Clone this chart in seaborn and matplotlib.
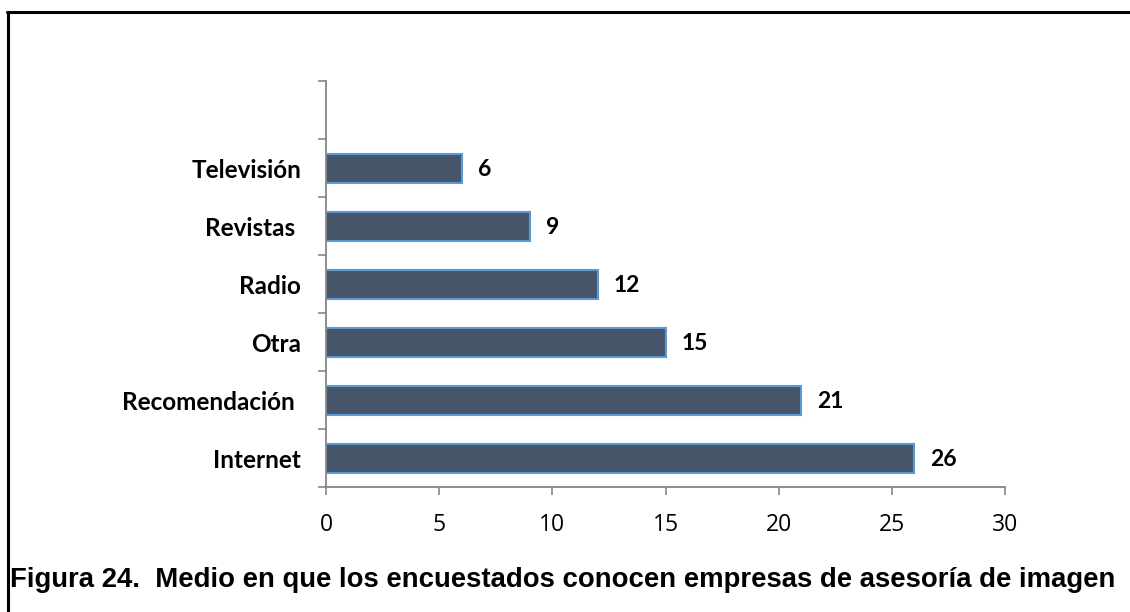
import matplotlib
matplotlib.use("Agg")
import matplotlib.pyplot as plt
from matplotlib.lines import Line2D
import numpy as np
import pandas as pd
import seaborn as sns

# Media through which respondents learn about image-consulting firms
categories = ["Televisión", "Revistas ", "Radio", "Otra", "Recomendación ", "Internet"]
values = [6, 9, 12, 15, 21, 26]
x_ticks = [0, 5, 10, 15, 20, 25, 30]
caption = "Figura 24.  Medio en que los encuestados conocen empresas de asesoría de imagen"

df = pd.DataFrame({"medio": categories, "n": values})

sns.set_theme(style="white", rc={"text.color": "black",
                                 "xtick.color": "black", "ytick.color": "black"})
plt.rcParams["font.family"] = ["Lato", "DejaVu Sans"]

W, H = 1130, 612
fig = plt.figure(figsize=(W / 100, H / 100), dpi=100)
ax = fig.add_axes([326 / W, 1 - 487 / H, (1005 - 326) / W, (487 - 81.5) / H])

sns.barplot(data=df, x="n", y="medio", order=categories, orient="h",
            color="#465569", edgecolor="#5B9BD5", linewidth=1.5,
            width=0.5, saturation=1, ax=ax)

# one empty slot above the top bar
ax.set_ylim(len(categories) - 0.5, -1.5)
ax.set_xlim(x_ticks[0], x_ticks[-1])
ax.set_xticks(x_ticks)
ax.set_xticklabels([str(t) for t in x_ticks], fontsize=16.5,
                   family=["Open Sans", "DejaVu Sans"], color="black")
ax.set_xlabel("")
ax.set_ylabel("")

ax.set_yticks(range(len(categories)))
ax.set_yticklabels(categories, fontsize=17.5, fontweight="bold", color="black")
ax.set_yticks(np.arange(-1.5, len(categories), 1.0), minor=True)
ax.tick_params(axis="y", which="major", length=0, pad=18)
ax.tick_params(axis="y", which="minor", left=True, length=5.5, width=1.2, color="#868686")
ax.tick_params(axis="x", which="major", bottom=True, length=5.5, width=1.2,
               color="#868686", pad=13.5)

for s in ["top", "right"]:
    ax.spines[s].set_visible(False)
for s in ["left", "bottom"]:
    ax.spines[s].set_color("#868686")
    ax.spines[s].set_linewidth(1.3)

for p, v in zip(ax.patches, values):
    y = p.get_y() + p.get_height() / 2
    ax.annotate(f"{v}", xy=(v, y), xytext=(11.5, -1), textcoords="offset points",
                va="center", ha="left", fontsize=16.5, fontweight="bold", color="black")

# caption below the chart
fig.text(10 / W, 1 - 580 / H, caption, ha="left", va="center", color="black",
         fontsize=19.8, fontweight="bold", family=["Liberation Sans", "DejaVu Sans"])

# frame lines on top and left
fig.add_artist(Line2D([7 / W, 1], [1 - 12 / H, 1 - 12 / H], transform=fig.transFigure,
                      color="black", linewidth=2.2))
fig.add_artist(Line2D([8 / W, 8 / W], [0, 1 - 12 / H], transform=fig.transFigure,
                      color="black", linewidth=2.2))

fig.savefig("out.png", dpi=100, facecolor="white")
